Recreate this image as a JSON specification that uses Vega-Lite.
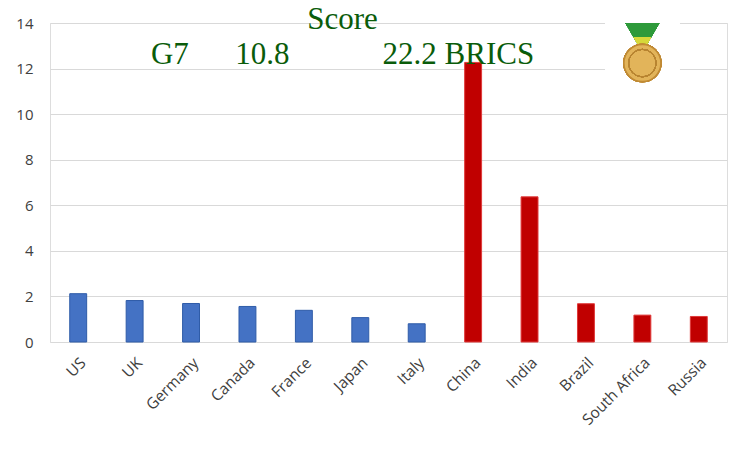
{
  "$schema": "https://vega.github.io/schema/vega-lite/v6.json",
  "width": 677,
  "height": 319,
  "autosize": {"type": "none"},
  "padding": {"left": 50, "top": 23, "right": 23, "bottom": 108},
  "background": "white",
  "title": {
    "text": "Score",
    "subtitle": "G7\u00a0\u00a0\u00a0\u00a0\u00a0\u00a010.8\u00a0\u00a0\u00a0\u00a0\u00a0\u00a0\u00a0\u00a0\u00a0\u00a0\u00a0\u00a022.2 BRICS",
    "anchor": "middle",
    "frame": "group",
    "dx": -46,
    "offset": -55,
    "font": "Liberation Serif",
    "fontSize": 31,
    "fontWeight": "normal",
    "color": "#0a5c0a",
    "subtitleFont": "Liberation Serif",
    "subtitleFontSize": 31,
    "subtitleColor": "#0a5c0a",
    "subtitlePadding": 4
  },
  "data": {
    "values": [
      {"country": "US", "group": "G7", "score": 2.12},
      {"country": "UK", "group": "G7", "score": 1.82},
      {"country": "Germany", "group": "G7", "score": 1.69},
      {"country": "Canada", "group": "G7", "score": 1.56},
      {"country": "France", "group": "G7", "score": 1.39},
      {"country": "Japan", "group": "G7", "score": 1.07},
      {"country": "Italy", "group": "G7", "score": 0.8},
      {"country": "China", "group": "BRICS", "score": 12.27},
      {"country": "India", "group": "BRICS", "score": 6.37},
      {"country": "Brazil", "group": "BRICS", "score": 1.68},
      {"country": "South Africa", "group": "BRICS", "score": 1.18},
      {"country": "Russia", "group": "BRICS", "score": 1.12}
    ]
  },
  "encoding": {
    "x": {
      "field": "country",
      "type": "nominal",
      "sort": null,
      "scale": {"paddingInner": 0.7, "paddingOuter": 0.35},
      "axis": {
        "title": null,
        "domain": false,
        "ticks": false,
        "tickSize": 0,
        "labelAngle": -45,
        "labelPadding": 13,
        "labelFont": "Open Sans",
        "labelFontSize": 15.5,
        "labelColor": "#404040"
      }
    }
  },
  "layer": [
    {
      "mark": {"type": "bar", "strokeWidth": 1},
      "encoding": {
        "y": {
          "field": "score",
          "type": "quantitative",
          "scale": {"domain": [0, 14], "nice": false},
          "axis": {
            "title": null,
            "values": [0, 2, 4, 6, 8, 10, 12, 14],
            "domain": false,
            "ticks": false,
            "tickSize": 0,
            "labelPadding": 17,
            "labelFont": "Open Sans",
            "labelFontSize": 15,
            "labelColor": "#404040",
            "gridColor": "#d9d9d9",
            "gridWidth": 1.2
          }
        },
        "color": {
          "field": "group",
          "type": "nominal",
          "scale": {"domain": ["G7", "BRICS"], "range": ["#4472c4", "#c00000"]},
          "legend": null
        },
        "stroke": {
          "field": "group",
          "type": "nominal",
          "scale": {"domain": ["G7", "BRICS"], "range": ["#2f5ca8", "#e03a3a"]},
          "legend": null
        }
      }
    },
    {
      "mark": {"type": "point", "shape": "square", "filled": true, "color": "white", "opacity": 1, "size": 5500},
      "encoding": {"x": {"datum": "South Africa"}, "y": {"datum": 12.6}}
    },
    {
      "mark": {"type": "point", "shape": "triangle-down", "filled": true, "color": "#2e9a3a", "opacity": 1, "size": 1156},
      "encoding": {"x": {"datum": "South Africa"}, "y": {"datum": 13.35}}
    },
    {
      "mark": {"type": "point", "shape": "triangle-down", "filled": true, "color": "#d6d83a", "opacity": 1, "size": 300},
      "encoding": {"x": {"datum": "South Africa"}, "y": {"datum": 13.05}}
    },
    {
      "mark": {"type": "point", "shape": "circle", "filled": true, "color": "#e2b45a", "stroke": "#c08a34", "strokeWidth": 1.5, "opacity": 1, "size": 1369},
      "encoding": {"x": {"datum": "South Africa"}, "y": {"datum": 12.24}}
    },
    {
      "mark": {"type": "point", "shape": "circle", "filled": false, "color": "#b88430", "strokeWidth": 1, "opacity": 1, "size": 760},
      "encoding": {"x": {"datum": "South Africa"}, "y": {"datum": 12.24}}
    }
  ]
}
